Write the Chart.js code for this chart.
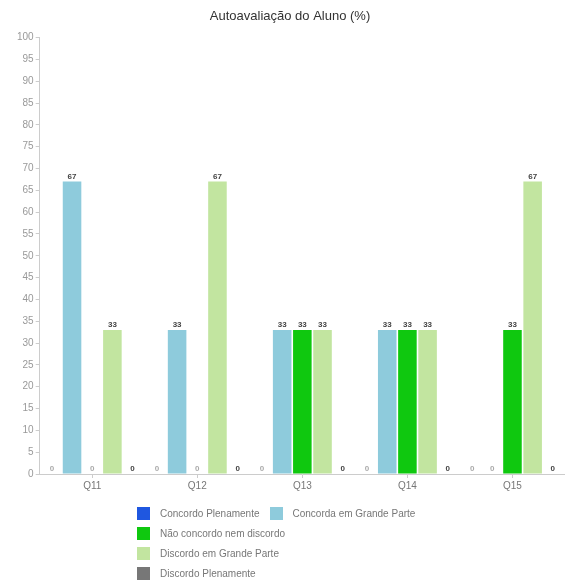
<!DOCTYPE html>
<html>
<head>
<meta charset="utf-8">
<script src="https://cdn.jsdelivr.net/npm/chart.js@4.4.1/dist/chart.umd.min.js"></script>
<style>
  body { margin: 0; background: #fff; }
  #wrap { position: relative; width: 565px; height: 588px; }
  #legend { position: absolute; left: 137px; top: 503px; font: 10px "Liberation Sans", Arial, sans-serif; color: #777; }
  #legend .row { display: flex; height: 20px; align-items: center; }
  #legend .item { display: flex; align-items: center; margin-right: 10px; }
  #legend .box { width: 13px; height: 13px; margin-right: 10px; }
</style>
</head>
<body>
<div id="wrap">
  <canvas id="barChart" width="565" height="588"></canvas>
  <div id="legend"></div>
</div>
<script>
var categories = ["Q11", "Q12", "Q13", "Q14", "Q15"];
var seriesNames = ["Concordo Plenamente", "Concorda em Grande Parte", "Não concordo nem discordo", "Discordo em Grande Parte", "Discordo Plenamente"];
var concordoPlenamente = [0, 0, 0, 0, 0];
var concordaGrandeParte = [67, 33, 33, 33, 0];
var naoConcordoNemDiscordo = [0, 0, 33, 33, 33];
var discordoGrandeParte = [33, 67, 33, 33, 67];
var discordoPlenamente = [0, 0, 0, 0, 0];
var yTicks = [0, 100, 5];

var colors = ["#1f57e0", "#8ecbdc", "#0fc80f", "#c2e5a0", "#777777"];
var seriesData = [concordoPlenamente, concordaGrandeParte, naoConcordoNemDiscordo, discordoGrandeParte, discordoPlenamente];

// rotulos de valor em cima das barras
var valueLabels = {
  id: "valueLabels",
  afterDatasetsDraw: function (chart) {
    var ctx = chart.ctx;
    ctx.save();
    ctx.font = "bold 8px 'Liberation Sans', Arial, sans-serif";
    ctx.textAlign = "center";
    ctx.textBaseline = "bottom";
    chart.data.datasets.forEach(function (ds, i) {
      chart.getDatasetMeta(i).data.forEach(function (bar, j) {
        var v = ds.data[j];
        ctx.fillStyle = (v === 0 && i < 4) ? "#aaa" : "#444";
        ctx.fillText(v, bar.x, bar.y - 1);
      });
    });
    ctx.restore();
  }
};

var chart = new Chart(document.getElementById("barChart"), {
  type: "bar",
  data: {
    labels: categories,
    datasets: seriesNames.map(function (name, i) {
      return {
        label: name,
        data: seriesData[i],
        backgroundColor: colors[i],
        categoryPercentage: 0.96,
        barPercentage: 0.92
      };
    })
  },
  options: {
    responsive: false,
    animation: false,
    layout: { padding: { left: 15, right: 0, top: 0, bottom: 94 } },
    plugins: {
      legend: { display: false },
      tooltip: { enabled: false },
      title: {
        display: true,
        text: "Autoavaliação do Aluno (%)",
        color: "#333",
        font: { family: "'Liberation Sans', Arial, sans-serif", size: 13, weight: "normal" },
        padding: { top: 9, bottom: 13 }
      }
    },
    scales: {
      x: {
        grid: { drawOnChartArea: false, offset: false, tickLength: 4, color: "#ccc" },
        border: { color: "#ccc" },
        ticks: { color: "#777", font: { family: "'Liberation Sans', Arial, sans-serif", size: 10 }, padding: 2 }
      },
      y: {
        min: yTicks[0],
        max: yTicks[1],
        grid: { drawOnChartArea: false, tickLength: 4, color: "#ccc" },
        border: { color: "#ccc" },
        ticks: { stepSize: yTicks[2], color: "#999", font: { family: "'Liberation Sans', Arial, sans-serif", size: 10 }, padding: 2 }
      }
    }
  },
  plugins: [valueLabels]
});

// legenda em html, alinhada a esquerda como na imagem
var rows = [[0, 1], [2], [3], [4]];
var legend = document.getElementById("legend");
rows.forEach(function (r) {
  var row = document.createElement("div");
  row.className = "row";
  r.forEach(function (i) {
    var item = document.createElement("div");
    item.className = "item";
    item.innerHTML = '<span class="box" style="background:' + colors[i] + '"></span>' + seriesNames[i];
    row.appendChild(item);
  });
  legend.appendChild(row);
});
</script>
</body>
</html>
